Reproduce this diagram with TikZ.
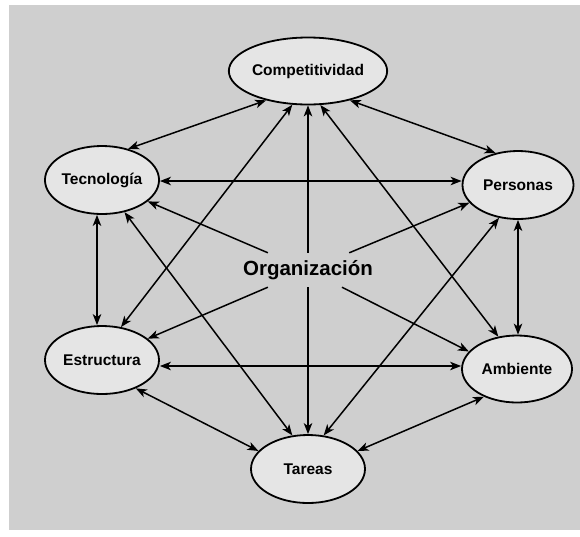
\documentclass[tikz,border=0pt]{standalone}
\usepackage{fontspec}
\setmainfont{Liberation Sans}
\usepackage{tikz}
\usetikzlibrary{shapes.geometric,arrows.meta,positioning,calc}

\begin{document}
\begin{tikzpicture}[
    x=1pt, y=-1pt,
    elem/.style={ellipse, draw, line width=1.8pt, fill=black!10, minimum width=114pt, minimum height=68pt, inner sep=0pt, font=\fontsize{15.5}{18}\selectfont\bfseries},
    arrow/.style={<->, >={Stealth[length=11pt,width=8.5pt,inset=3pt]}, line width=1.5pt},
    oneway/.style={->, >={Stealth[length=11pt,width=8.5pt,inset=3pt]}, line width=1.5pt}
]

% Background
\fill[black!19] (9,5) rectangle (580,530);
\useasboundingbox (0,0) rectangle (580,536);

% Center
\node[font=\fontsize{20.5}{24}\selectfont\bfseries, minimum width=128pt, minimum height=34pt, inner sep=0pt] (org) at (308,270) {Organización};

% Elements
\node[elem, minimum width=133pt, minimum height=67pt] (comp) at (308,71) {Competitividad};
\node[elem] (tec) at (102,180) {Tecnología};
\node[elem, minimum width=111pt] (per) at (518,185) {Personas};
\node[elem] (est) at (102,360) {Estructura};
\node[elem, minimum width=110pt, minimum height=67pt] (amb) at (517,369) {Ambiente};
\node[elem] (tar) at (308,469) {Tareas};

% Organizacion to all
\draw[oneway] (org) -- (comp);
\draw[oneway] (org) -- (tar);
\draw[oneway] (org) -- (tec.-25);
\draw[oneway] (org) -- (per.200);
\draw[oneway] (org) -- (est.25);
\draw[oneway] (org) -- (amb.160);

% Competitividad
\draw[arrow] (comp.215) -- (tec.50);
\draw[arrow] (comp.-35) -- (per.125);
\draw[arrow] (comp.245) -- (est.60);
\draw[arrow] (comp.-70) -- (amb.120);

% Outer ring
\draw[arrow] (tec.east |- 0,181) -- (per.west |- 0,181);
\draw[arrow] (tec.south -| 97,0) -- (est.north -| 97,0);
\draw[arrow] (tec.-55) -- (tar.115);
\draw[arrow] (per.south -| 518,0) -- (amb.north -| 518,0);
\draw[arrow] (per.240) -- (tar.65);
\draw[arrow] (est.east |- 0,366) -- (amb.west |- 0,366);
\draw[arrow] (est.-40) -- (tar.160);
\draw[arrow] (amb.220) -- (tar.20);

\end{tikzpicture}
\end{document}
